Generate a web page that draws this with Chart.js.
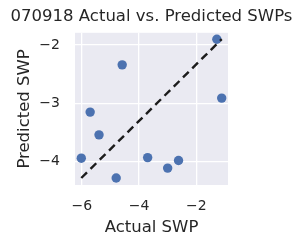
<!DOCTYPE html>
<html>
<head>
<meta charset="utf-8">
<script src="https://cdn.jsdelivr.net/npm/chart.js@4/dist/chart.umd.min.js"></script>
<style>
html,body{margin:0;padding:0;background:#fff;}
#wrap{width:303px;height:248px;}
</style>
</head>
<body>
<div id="wrap"><canvas id="c" width="303" height="248"></canvas></div>
<script>
const titleText = "070918 Actual vs. Predicted SWPs";
const xLabel = "Actual SWP";
const yLabel = "Predicted SWP";
const actualSWP = [-1.28, -4.59, -1.11, -5.71, -5.40, -6.02, -3.70, -2.62, -3.00, -4.80];
const predictedSWP = [-1.90, -2.34, -2.91, -3.15, -3.54, -3.94, -3.93, -3.98, -4.11, -4.28];
const xTicks = [-6, -4, -2];
const yTicks = [-4, -3, -2];

const FONT = "'DejaVu Sans', sans-serif";
const TXT = '#262626';

const pts = actualSWP.map((x, i) => ({x: x, y: predictedSWP[i]}));
const lineData = [
  {x: Math.min(...actualSWP), y: Math.min(...predictedSWP)},
  {x: Math.max(...actualSWP), y: Math.max(...predictedSWP)}
];

const fmt = v => (v < 0 ? '\u2212' : '') + Math.abs(v);

const bgPlugin = {
  id: 'bg',
  beforeDraw(chart) {
    const a = chart.chartArea, ctx = chart.ctx;
    ctx.save();
    ctx.fillStyle = '#EAEAF2';
    ctx.fillRect(a.left, a.top, a.right - a.left, a.bottom - a.top);
    ctx.restore();
  }
};

new Chart(document.getElementById('c'), {
  type: 'scatter',
  data: {
    datasets: [
      {
        type: 'line',
        data: lineData,
        borderColor: '#1c1c1c',
        borderWidth: 2.4,
        borderDash: [8, 5],
        pointRadius: 0,
        fill: false,
        order: 0
      },
      {
        data: pts,
        backgroundColor: '#4C72B0',
        borderColor: '#4C72B0',
        borderWidth: 0,
        pointRadius: 4.7,
        order: 1
      }
    ]
  },
  options: {
    responsive: false,
    animation: false,
    devicePixelRatio: 1,
    layout: {padding: 0},
    plugins: {
      legend: {display: false},
      tooltip: {enabled: false},
      title: {
        display: true,
        text: titleText,
        color: TXT,
        font: {family: FONT, size: 16.5, weight: 'normal'},
        padding: {top: 7, bottom: 6}
      }
    },
    scales: {
      x: {
        type: 'linear',
        min: -6.24,
        max: -0.89,
        border: {display: false},
        grid: {color: '#ffffff', lineWidth: 1.3, drawTicks: false},
        afterBuildTicks: ax => { ax.ticks = xTicks.map(v => ({value: v})); },
        afterFit: ax => { ax.height = 63; },
        ticks: {
          color: TXT,
          font: {family: FONT, size: 14},
          padding: 13,
          maxRotation: 0,
          callback: fmt
        },
        title: {
          display: true,
          text: xLabel,
          color: TXT,
          font: {family: FONT, size: 16.5},
          padding: {top: 0, bottom: 10}
        }
      },
      y: {
        type: 'linear',
        position: 'left',
        min: -4.40,
        max: -1.79,
        border: {display: false},
        grid: {color: '#ffffff', lineWidth: 1.3, drawTicks: false},
        afterBuildTicks: ax => { ax.ticks = yTicks.map(v => ({value: v})); },
        afterFit: ax => { ax.width = 75; },
        ticks: {
          color: TXT,
          font: {family: FONT, size: 14},
          padding: 15,
          callback: fmt
        },
        title: {
          display: true,
          text: yLabel,
          color: TXT,
          font: {family: FONT, size: 16.5},
          padding: {top: 15, bottom: 0}
        }
      },
      yRight: {
        type: 'linear',
        position: 'right',
        min: -4.40,
        max: -1.79,
        border: {display: false},
        grid: {display: false, drawTicks: false},
        ticks: {display: false},
        afterFit: ax => { ax.width = 75; }
      }
    }
  },
  plugins: [bgPlugin]
});
</script>
</body>
</html>
